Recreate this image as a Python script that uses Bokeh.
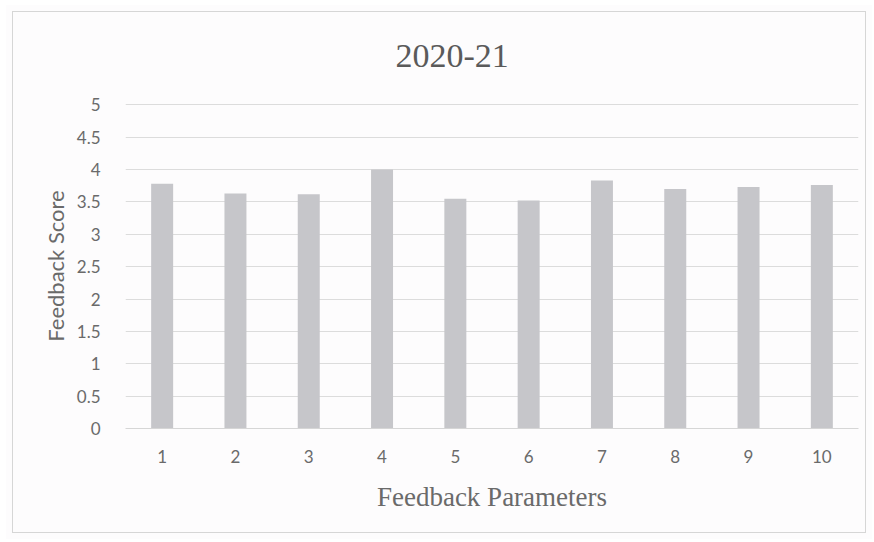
from bokeh.plotting import figure
from bokeh.models import Range1d, FixedTicker, Title
from bokeh.embed import file_html
from bokeh.resources import INLINE

# Data
parameters = ["1", "2", "3", "4", "5", "6", "7", "8", "9", "10"]
scores = [3.78, 3.63, 3.62, 4.0, 3.55, 3.52, 3.83, 3.70, 3.73, 3.76]
y_ticks = [0, 0.5, 1, 1.5, 2, 2.5, 3, 3.5, 4, 4.5, 5]
title_text = "2020-21"

p = figure(
    x_range=parameters,
    y_range=Range1d(0, 5.02),
    width=866, height=534,
    output_backend="svg", toolbar_location=None,
    min_border_left=119, min_border_right=14,
    min_border_top=98, min_border_bottom=111,
    background_fill_color=None, border_fill_color=None,
)
p.styles = {"outline": "1px solid #d6d6d6", "outline-offset": "-7px",
            "margin": "5px 0 0 6px", "background-color": "#fdfcfd"}

p.vbar(x=parameters, top=scores, width=0.3, fill_color="#c6c6ca", line_color=None)

t = Title(text=title_text, align="left", offset=270,
          text_font="Liberation Serif", text_font_size="34px",
          text_font_style="normal", text_color="#5a5a5a", standoff=74)
p.add_layout(t, "above")

p.outline_line_color = None
p.xgrid.grid_line_color = None
p.ygrid.grid_line_color = "#dcdcdc"
p.ygrid.grid_line_width = 1
p.yaxis.ticker = FixedTicker(ticks=y_ticks)
p.yaxis.major_label_overrides = {0: "0", 0.5: "0.5", 1: "1", 1.5: "1.5", 2: "2", 2.5: "2.5",
                                 3: "3", 3.5: "3.5", 4: "4", 4.5: "4.5", 5: "5"}

for ax in (p.xaxis, p.yaxis):
    ax.major_tick_line_color = None
    ax.minor_tick_line_color = None
    ax.major_label_text_font = "Lato"
    ax.major_label_text_font_size = "17px"
    ax.major_label_text_color = "#6a6a6a"

p.yaxis.axis_line_color = None
p.xaxis.axis_line_color = "#d6d6d6"
p.yaxis.major_label_standoff = 19
p.xaxis.major_label_standoff = 15

p.xaxis.axis_label = "Feedback Parameters"
p.xaxis.axis_label_text_font = "Liberation Serif"
p.xaxis.axis_label_text_font_size = "27px"
p.xaxis.axis_label_text_font_style = "normal"
p.xaxis.axis_label_text_color = "#6a6a6a"
p.xaxis.axis_label_standoff = 16

p.yaxis.axis_label = "Feedback Score"
p.yaxis.axis_label_text_font = "Lato"
p.yaxis.axis_label_text_font_size = "22px"
p.yaxis.axis_label_text_font_style = "normal"
p.yaxis.axis_label_text_color = "#6a6a6a"
p.yaxis.axis_label_standoff = 5

open("out.html", "w").write(file_html(p, INLINE))
